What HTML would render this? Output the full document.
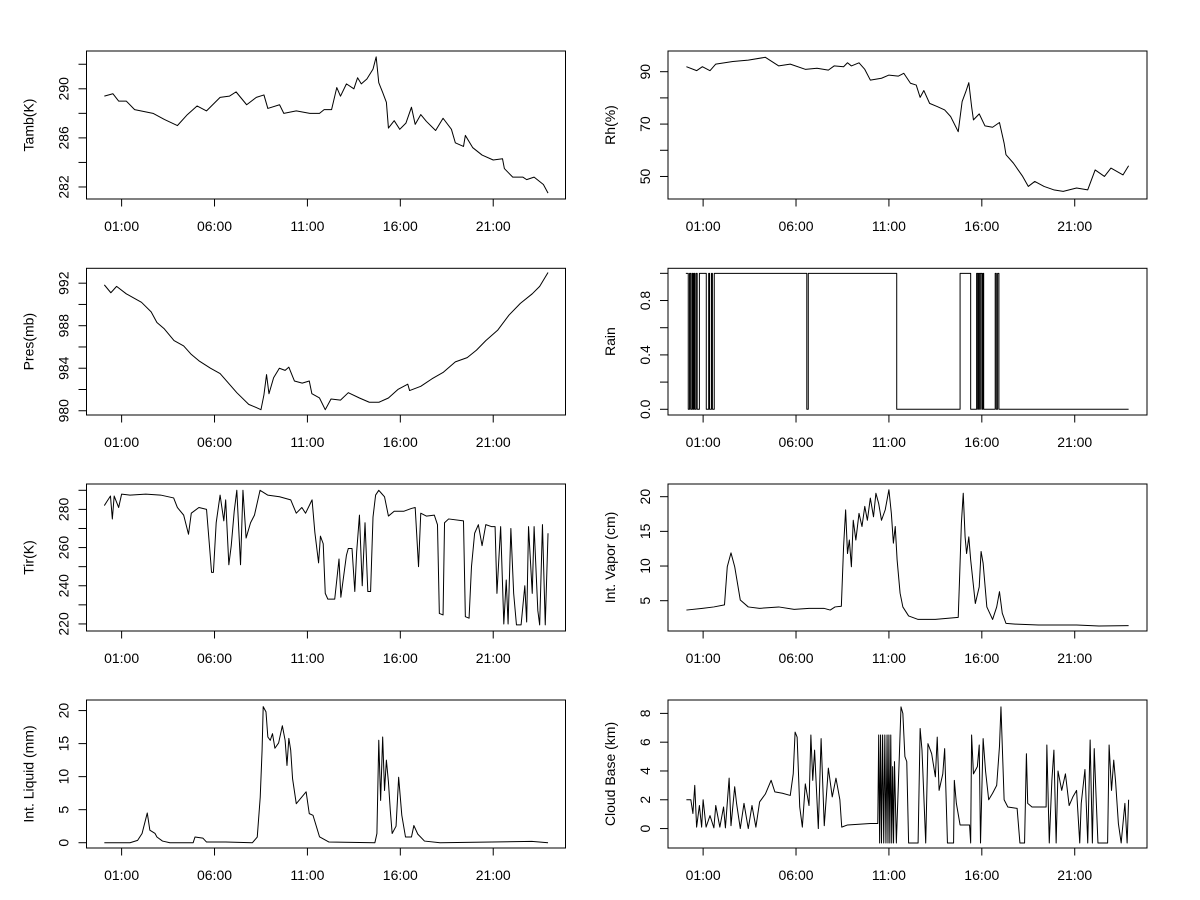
<!DOCTYPE html>
<html><head><meta charset="utf-8"><style>
html,body{margin:0;padding:0;background:#fff;}
svg{display:block;font-family:"Liberation Sans",Arial,sans-serif;}
</style></head><body>
<svg id="chart" width="1200" height="900" viewBox="0 0 1200 900" xmlns="http://www.w3.org/2000/svg">
<rect x="0" y="0" width="1200" height="900" fill="#fff"/>
</svg>
<script>
const xTickHours = [1, 6, 11, 16, 21];
const xTickLabels = ["01:00", "06:00", "11:00", "16:00", "21:00"];

const tambT = [0.07,0.53,0.84,1.25,1.7,2.69,3.3,4.0,4.54,5.06,5.57,6.3,6.8,7.16,7.73,8.25,8.66,8.87,9.5,9.73,10.4,11.13,11.65,11.9,12.3,12.58,12.78,13.1,13.5,13.7,13.9,14.2,14.53,14.7,14.84,15.05,15.25,15.36,15.67,15.97,16.3,16.6,16.8,17.1,17.4,17.9,18.3,18.75,18.96,19.4,19.5,19.9,20.4,21.0,21.5,21.6,22.05,22.6,22.8,23.2,23.7,23.95];
const tambV = [289.4,289.6,289.0,289.0,288.3,288.0,287.5,287.0,287.9,288.6,288.2,289.3,289.4,289.75,288.7,289.3,289.5,288.4,288.7,288.0,288.2,288.0,288.0,288.3,288.3,290.1,289.4,290.4,290.0,290.9,290.4,290.8,291.6,292.6,290.5,289.7,288.9,286.8,287.4,286.7,287.2,288.5,287.1,287.9,287.35,286.6,287.6,286.7,285.6,285.3,286.2,285.2,284.6,284.2,284.3,283.5,282.8,282.8,282.6,282.8,282.2,281.5];

const rhT = [0.1,0.65,0.96,1.37,1.68,2.6,3.43,4.35,5.07,5.69,6.5,7.13,7.74,8.05,8.56,8.77,8.98,9.39,9.7,10.0,10.6,11.0,11.5,11.8,12.16,12.47,12.68,12.88,13.19,13.6,14.0,14.32,14.73,14.94,15.14,15.3,15.45,15.55,15.86,16.17,16.58,16.95,17.2,17.3,17.7,18.2,18.5,18.85,19.35,19.87,20.38,21.1,21.7,22.1,22.6,22.95,23.6,23.9];
const rhV = [91.9,90.4,91.9,90.4,92.9,93.9,94.4,95.5,92.2,92.9,90.9,91.3,90.6,92.2,91.9,93.4,92.2,93.4,90.9,86.8,87.5,88.7,88.3,89.4,85.6,84.9,80.2,82.8,77.9,76.7,75.4,72.9,67.1,78.6,82.4,85.8,76.7,71.6,73.9,69.3,68.8,70.6,62.7,58.3,55.1,50.0,46.2,48.1,46.2,44.9,44.3,45.6,44.9,52.5,50.0,53.2,50.6,54.1];

const presT = [0.07,0.42,0.73,1.25,1.66,2.07,2.59,2.9,3.3,3.82,4.34,4.75,5.16,5.78,6.3,6.8,7.2,7.84,8.25,8.5,8.66,8.8,8.93,9.18,9.49,9.8,10.0,10.3,10.72,11.1,11.24,11.65,11.96,12.27,12.78,13.2,13.8,14.33,14.85,15.36,15.87,16.4,16.5,17.1,17.7,18.3,18.96,19.6,20.1,20.6,21.25,21.85,22.46,23.1,23.5,23.95];
const presV = [991.84,991.1,991.7,991.0,990.6,990.2,989.3,988.3,987.7,986.6,986.1,985.3,984.7,984.0,983.5,982.5,981.7,980.6,980.3,980.1,981.5,983.4,981.6,983.1,984.0,983.8,984.1,982.8,982.6,982.8,981.6,981.2,980.1,981.1,981.0,981.7,981.2,980.8,980.8,981.2,982.0,982.5,981.9,982.3,983.0,983.6,984.6,985.0,985.7,986.6,987.6,989.0,990.1,991.0,991.7,993.0];

const rainT = [0.07,0.2,0.27,0.33,0.4,0.45,0.5,0.55,0.62,0.68,0.8,1.17,1.3,1.35,1.45,1.5,1.6,6.58,6.66,11.42,14.83,15.4,15.72,15.78,15.82,15.88,15.92,16.0,16.05,16.1,16.72,16.78,16.85,16.92,23.9];
const rainV = [1,0,1,0,1,0,1,0,1,0,1,0,1,0,1,0,1,0,1,0,1,0,1,0,1,0,1,0,1,0,1,0,1,0,0];

const tirT = [0.07,0.2,0.4,0.5,0.6,0.84,1.0,1.45,2.3,3.1,3.8,4.0,4.34,4.6,4.75,5.16,5.57,5.74,5.84,5.94,6.09,6.3,6.5,6.6,6.77,6.9,7.06,7.2,7.4,7.53,7.7,7.94,8.15,8.45,8.86,9.5,10.1,10.4,10.7,10.9,11.25,11.4,11.6,11.7,11.85,11.96,12.1,12.47,12.7,12.8,13.1,13.2,13.4,13.55,13.65,13.8,13.95,14.1,14.25,14.4,14.53,14.67,14.84,15.15,15.36,15.67,16.18,16.6,16.8,16.98,17.1,17.4,17.83,18.0,18.1,18.3,18.38,18.6,19.4,19.5,19.7,19.83,20.0,20.2,20.4,20.6,20.9,21.1,21.2,21.4,21.57,21.7,21.8,21.95,22.1,22.25,22.5,22.7,22.8,22.9,23.1,23.2,23.4,23.5,23.65,23.8,23.95];
const tirV = [282,284,287,275,287,281,288,287.5,288,287.5,286,281,277,267,278,281,280,259.5,247,247,273,287.5,274,285,251,261,279,290,251,290,265,273,277,290,287.5,286.6,285,278,281,278,285,268,252,266,262,236,233,233,254,234,256,259.5,259.5,237,257.7,277,240,273,237,237,276,287.5,290,286.6,276.5,279,279,280.5,281,250,278,276.5,277,272,225.5,224.7,273,275,274,223.8,223,250,267.5,272,261,272,271,271,236,271,220,243,220,270,236,219.5,219.5,240,221,271,236,271,227,219.5,272,219.5,267.5];

const vapT = [0.1,0.96,1.58,2.15,2.3,2.5,2.7,3.0,3.43,4.04,5.07,5.9,6.7,7.5,7.84,8.1,8.44,8.56,8.67,8.77,8.87,8.98,9.08,9.22,9.39,9.55,9.7,9.84,10.0,10.17,10.3,10.45,10.6,10.8,11.0,11.13,11.24,11.34,11.44,11.6,11.75,12.06,12.57,13.5,14.73,14.8,14.9,15.0,15.1,15.18,15.3,15.4,15.65,15.86,15.96,16.07,16.27,16.58,16.8,16.95,17.1,17.3,17.8,19.05,21.1,22.3,23.9];
const vapV = [3.65,3.9,4.1,4.4,9.9,11.9,9.9,5.1,4.1,3.9,4.1,3.75,3.9,3.9,3.65,4.1,4.2,12.8,18.1,11.8,13.75,9.9,16.6,13.75,17.6,15.7,18.6,16.6,19.8,17.1,20.5,19.0,16.6,18.1,21.0,17.6,13.3,15.7,10.9,6.1,4.1,2.8,2.3,2.3,2.6,8.0,16.15,20.5,14.2,11.8,14.2,10.9,4.6,7.0,12.1,10.4,4.1,2.3,4.1,6.3,3.2,1.73,1.63,1.5,1.5,1.35,1.4];

const liqT = [0.07,1.45,1.86,2.1,2.38,2.52,2.8,2.9,3.2,3.6,4.85,4.95,5.37,5.57,6.6,8.04,8.3,8.46,8.56,8.62,8.77,8.87,9.0,9.12,9.25,9.45,9.65,9.8,9.9,10.0,10.1,10.2,10.4,10.93,11.1,11.3,11.65,12.16,14.63,14.74,14.84,14.94,15.05,15.15,15.25,15.36,15.46,15.56,15.77,15.91,16.08,16.28,16.6,16.73,16.94,17.3,18.14,23.08,23.95];
const liqV = [0,0,0.35,1.4,4.5,1.9,1.4,0.86,0.25,0,0,0.86,0.7,0.1,0.1,0,0.86,6.9,14.0,20.6,19.8,16.0,15.5,16.5,14.3,15.1,17.7,15.5,11.7,15.8,14.0,9.7,5.9,7.7,4.4,4.15,0.9,0.1,0,1.4,15.5,6.4,16.0,7.9,12.5,9.2,4.9,1.4,2.5,9.9,4.15,0.86,0.86,2.6,1.3,0.25,0,0.2,0];

const cloudT = [0.1,0.34,0.45,0.55,0.65,0.8,0.92,1.0,1.16,1.37,1.58,1.68,1.9,2.1,2.2,2.4,2.5,2.7,2.8,3.0,3.2,3.43,3.63,3.84,4.04,4.35,4.66,4.86,5.27,5.69,5.85,5.95,6.06,6.2,6.34,6.5,6.7,6.8,6.9,7.0,7.2,7.35,7.52,7.74,7.95,8.15,8.36,8.46,8.77,10.0,10.4,10.45,10.5,10.55,10.6,10.66,10.72,10.78,10.84,10.9,10.95,11.0,11.05,11.1,11.15,11.2,11.25,11.3,11.4,11.55,11.65,11.75,11.86,11.96,12.06,12.57,12.68,12.78,12.98,13.1,13.3,13.5,13.6,13.7,13.9,14.0,14.15,14.48,14.52,14.63,14.83,15.34,15.4,15.45,15.55,15.76,15.86,15.93,16.07,16.2,16.37,16.58,16.8,16.95,17.03,17.2,17.4,17.9,18.05,18.3,18.4,18.47,18.7,19.05,19.46,19.5,19.63,19.77,19.88,20.0,20.1,20.3,20.5,20.7,20.9,21.1,21.27,21.35,21.55,21.7,21.83,21.95,22.05,22.15,22.25,22.77,22.85,22.98,23.1,23.2,23.35,23.5,23.7,23.82,23.9];
const cloudV = [2.0,2.0,1.05,3.0,0.1,1.6,0.1,2.0,0.1,0.9,0.05,1.6,0.1,1.5,0.05,3.5,0.2,2.9,1.75,0,1.75,0,1.6,0.1,1.85,2.4,3.35,2.55,2.45,2.3,3.8,6.7,6.35,1.5,0.1,3.1,1.6,6.5,3.35,5.45,0,6.25,0.2,4.2,2.2,3.5,2.0,0.1,0.25,0.35,0.35,6.5,-1,6.5,-1,6.5,-1,6.5,-1,6.5,-1,6.5,-1,6.5,-1,4.3,-1,4.65,-1,4.65,8.45,8.0,5.0,4.65,-1,-1,6.95,5.45,-1,5.9,5.2,3.6,6.35,2.65,3.8,5.55,-1,-1,3.35,1.75,0.25,0.25,-1,6.5,3.8,4.3,5.8,-1,6.25,4.0,2.0,2.45,3.0,5.7,8.45,2.0,1.5,1.4,-1,-1,5.2,1.75,1.5,1.5,1.5,5.8,-1,3.35,5.45,-1,4.0,2.65,3.8,1.6,2.2,2.65,-1,1.75,4.1,-1,6.15,-1,5.55,2.2,-1,-1,5.8,2.65,4.75,3.25,0.35,-1,1.75,-1,2.0];

const tambTicks = [282,284,286,288,290,292];
const tambTickLabels = ["282","","286","","290",""];
const rhTicks = [50,60,70,80,90];
const rhTickLabels = ["50","","70","","90"];
const presTicks = [980,982,984,986,988,990,992];
const presTickLabels = ["980","","984","","988","","992"];
const rainTicks = [0,0.2,0.4,0.6,0.8,1.0];
const rainTickLabels = ["0.0","","0.4","","0.8",""];
const tirTicks = [220,230,240,250,260,270,280,290];
const tirTickLabels = ["220","","240","","260","","280",""];
const vapTicks = [5,10,15,20];
const vapTickLabels = ["5","10","15","20"];
const liqTicks = [0,5,10,15,20];
const liqTickLabels = ["0","5","10","15","20"];
const cloudTicks = [0,2,4,6,8];
const cloudTickLabels = ["0","2","4","6","8"];

const NS = "http://www.w3.org/2000/svg";
const svg = document.getElementById("chart");
const colX = [[86.5,565.5],[668,1147]];
const rowY = [[51,199],[268.3,415],[484,631],[700,848]];
const xDom = [-0.89, 24.89];

const panels = [
  {key:"tamb", title:"Tamb(K)", c:0, r:0, t:tambT, v:tambV, dom:[281.02,293.08], ticks:tambTicks, labels:tambTickLabels, step:false},
  {key:"rh", title:"Rh(%)", c:1, r:0, t:rhT, v:rhV, dom:[41.4,97.9], ticks:rhTicks, labels:rhTickLabels, step:false},
  {key:"pres", title:"Pres(mb)", c:0, r:1, t:presT, v:presV, dom:[979.6,993.4], ticks:presTicks, labels:presTickLabels, step:false},
  {key:"rain", title:"Rain", c:1, r:1, t:rainT, v:rainV, dom:[-0.042,1.037], ticks:rainTicks, labels:rainTickLabels, step:true},
  {key:"tir", title:"Tir(K)", c:0, r:2, t:tirT, v:tirV, dom:[216.3,293.3], ticks:tirTicks, labels:tirTickLabels, step:false},
  {key:"vapor", title:"Int. Vapor (cm)", c:1, r:2, t:vapT, v:vapV, dom:[0.63,21.83], ticks:vapTicks, labels:vapTickLabels, step:false},
  {key:"liquid", title:"Int. Liquid (mm)", c:0, r:3, t:liqT, v:liqV, dom:[-0.8,21.6], ticks:liqTicks, labels:liqTickLabels, step:false},
  {key:"cloud-base", title:"Cloud Base (km)", c:1, r:3, t:cloudT, v:cloudV, dom:[-1.35,8.93], ticks:cloudTicks, labels:cloudTickLabels, step:false}
];

function mk(tag, attrs, parent){
  const e = document.createElementNS(NS, tag);
  for (const k in attrs) e.setAttribute(k, attrs[k]);
  parent.appendChild(e);
  return e;
}

panels.forEach(p => {
  const [x0,x1] = colX[p.c];
  const [y0,y1] = rowY[p.r];
  const xs = t => x0 + (t - xDom[0]) / (xDom[1] - xDom[0]) * (x1 - x0);
  const ys = v => y1 - (v - p.dom[0]) / (p.dom[1] - p.dom[0]) * (y1 - y0);
  const g = mk("g", {}, svg);
  
  

  const box = mk("rect", {x:x0, y:y0, width:x1-x0, height:y1-y0, fill:"none", stroke:"#000", "stroke-width":1}, g);
  
  

  const xa = mk("g", {}, g);
  
  
  xTickHours.forEach((h, i) => {
    const x = xs(h);
    const tk = mk("line", {x1:x, x2:x, y1:y1, y2:y1+7.5, stroke:"#000", "stroke-width":1}, xa);
    
    
    const tx = mk("text", {x:x, y:y1+32, "font-size":14, "text-anchor":"middle", fill:"#000"}, xa);
    
    
    tx.textContent = xTickLabels[i];
  });

  const ya = mk("g", {}, g);
  
  
  p.ticks.forEach((v, i) => {
    const y = ys(v);
    const tk = mk("line", {x1:x0-8, x2:x0, y1:y, y2:y, stroke:"#000", "stroke-width":1}, ya);
    
    
    if (p.labels[i]) {
      const tx = mk("text", {x:0, y:0, "font-size":14, "text-anchor":"middle", fill:"#000",
        transform:"translate(" + (x0-18) + "," + y + ") rotate(-90)"}, ya);
      
      
      tx.textContent = p.labels[i];
    }
  });
  const ttl = mk("text", {x:0, y:0, "font-size":14, "text-anchor":"middle", fill:"#000",
    transform:"translate(" + (x0-53) + "," + ((y0+y1)/2) + ") rotate(-90)"}, ya);
  
  
  ttl.textContent = p.title;

  let d = "";
  for (let i = 0; i < p.t.length; i++) {
    const x = xs(p.t[i]).toFixed(2), y = ys(p.v[i]).toFixed(2);
    if (i === 0) d += "M" + x + "," + y;
    else if (p.step) d += "H" + x + "V" + y;
    else d += "L" + x + "," + y;
  }
  const line = mk("path", {d:d, fill:"none", stroke:"#000", "stroke-width":1, "stroke-linejoin":"round"}, g);
  
  
});
</script>
</body></html>
